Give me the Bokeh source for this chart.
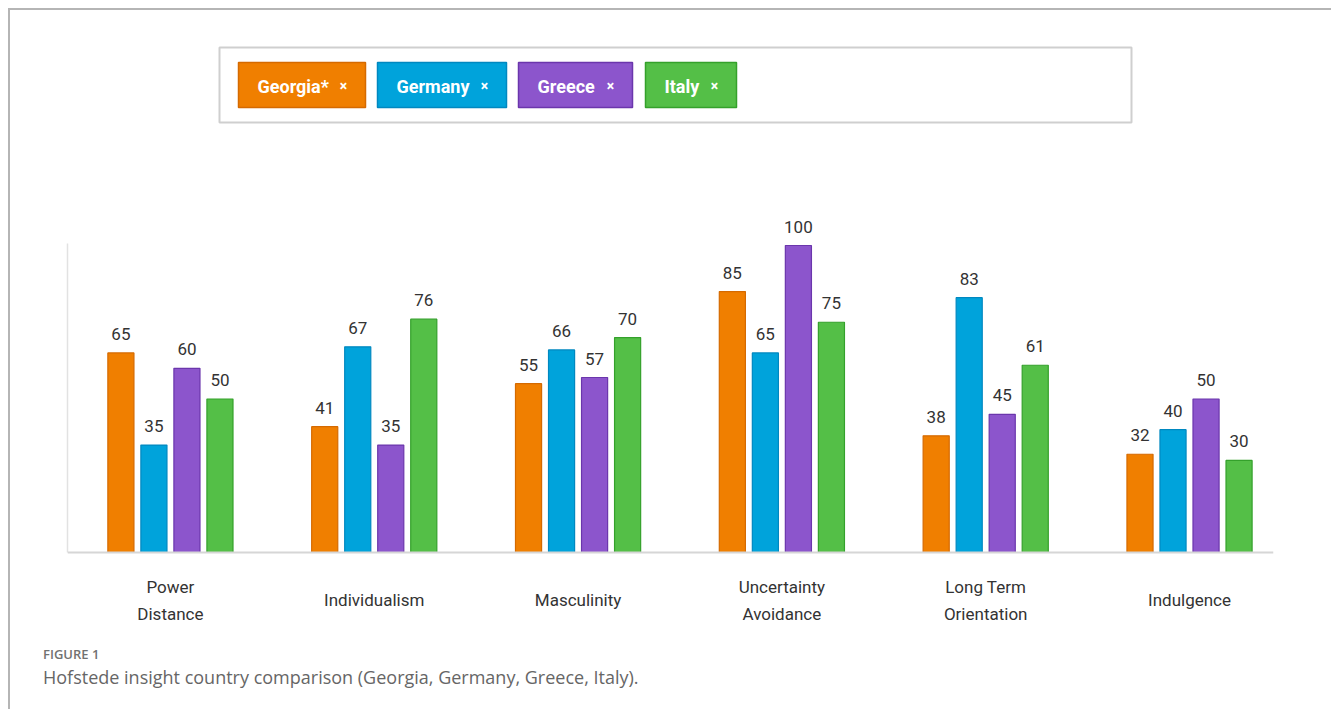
from bokeh.plotting import figure
from bokeh.models import Range1d, ColumnDataSource, LabelSet, FixedTicker, Div, Span
from bokeh.transform import dodge
from bokeh.layouts import column
from bokeh.core.properties import value
from bokeh.embed import file_html
from bokeh.resources import INLINE

# ---------------- data ----------------
categories = ["Power\nDistance", "Individualism", "Masculinity",
              "Uncertainty\nAvoidance", "Long Term\nOrientation", "Indulgence"]
countries = ["Georgia*", "Germany", "Greece", "Italy"]
georgia = [65, 41, 55, 85, 38, 32]
germany = [35, 67, 66, 65, 83, 40]
greece = [60, 35, 57, 100, 45, 50]
italy = [50, 76, 70, 75, 61, 30]
series = [georgia, germany, greece, italy]

fill_colors = ["#F07F00", "#00A3DB", "#8C55CC", "#54BF47"]
line_colors = ["#D56A00", "#0088C0", "#6B36AC", "#34A12B"]

FONT = "Roboto"
W = 1321
BL = 57            # left border (px) shared by both plots
BR = W + 10 - 1273  # right border (px)

# ---------------- legend (top) ----------------
leg = figure(width=W, height=190, x_range=Range1d(BL, W - BR), y_range=Range1d(190, 0),
             toolbar_location=None, output_backend="svg",
             min_border_left=BL, min_border_right=BR, min_border_top=0, min_border_bottom=0,
             outline_line_color=None)
leg.axis.visible = False
leg.grid.visible = False

leg.quad(left=[209], right=[1121], top=[37], bottom=[112], fill_color="white",
         line_color="#cfcfcf", line_width=2)

chip_left = [228, 367, 508, 635]
chip_right = [355, 496, 622, 726]
chip_top, chip_bottom = 52, 97
chip_src = ColumnDataSource(dict(
    left=chip_left, right=chip_right,
    top=[chip_top] * 4, bottom=[chip_bottom] * 4,
    fill=fill_colors, line=line_colors,
    name=countries,
    tx=[l + 19 for l in chip_left],
    xx=[r - 22 for r in chip_right],
    ty=[(chip_top + chip_bottom) / 2 + 1] * 4,
    x=["\u00d7"] * 4,
))
leg.quad(left="left", right="right", top="top", bottom="bottom",
         fill_color="fill", line_color="line", line_width=1.5, source=chip_src)
leg.text(x="tx", y="ty", text="name", source=chip_src, text_color="white",
         text_font=value(FONT), text_font_style="bold", text_font_size="18px",
         text_baseline="middle", text_align="left")
leg.text(x="xx", y="ty", text="x", source=chip_src, text_color="white",
         text_font=value(FONT), text_font_style="bold", text_font_size="14px",
         text_baseline="middle", text_align="center")

# ---------------- main chart ----------------
p = figure(width=W, height=435, x_range=Range1d(-0.505, 5.412), y_range=Range1d(-27.04, 114.66),
           toolbar_location=None, output_backend="svg",
           min_border_left=BL, min_border_right=BR, min_border_top=0, min_border_bottom=0,
           outline_line_color=None)
p.grid.visible = False
p.xaxis.visible = False

p.yaxis.major_tick_line_color = None
p.yaxis.minor_tick_line_color = None
p.yaxis.major_label_text_font_size = "0px"
p.yaxis.ticker = FixedTicker(ticks=[])
p.yaxis.axis_line_color = "#e2e2e2"
p.yaxis.axis_line_width = 1.5
p.yaxis.bounds = (0, 100.65)

p.add_layout(Span(location=0, dimension="width", line_color="#d6d6d6", line_width=2))

idx = list(range(len(categories)))
offsets = [-0.243, -0.081, 0.081, 0.243]
bar_w = 0.128

for vals, off, fc, lc in zip(series, offsets, fill_colors, line_colors):
    src = ColumnDataSource(dict(idx=idx, val=vals, txt=[str(v) for v in vals]))
    p.vbar(x=dodge("idx", off), top="val", width=bar_w, bottom=0, source=src,
           fill_color=fc, line_color=lc, line_width=1.2)
    p.add_layout(LabelSet(x=dodge("idx", off), y="val", text="txt", source=src,
                          y_offset=13, text_align="center", text_baseline="alphabetic",
                          text_font=value(FONT), text_font_size="17px",
                          text_color="#333333"))

# category labels: one centred label per line, block centred 48px under the baseline
LINE_GAP = 27
lx, ltxt, loff = [], [], []
for i, cat in enumerate(categories):
    lines = cat.split("\n")
    n = len(lines)
    for j, ln in enumerate(lines):
        lx.append(i)
        ltxt.append(ln)
        loff.append(-48 - (j - (n - 1) / 2) * LINE_GAP)
cat_src = ColumnDataSource(dict(x=lx, y=[0] * len(lx), name=ltxt, off=loff))
p.add_layout(LabelSet(x="x", y="y", text="name", source=cat_src, y_offset="off",
                      text_align="center", text_baseline="middle",
                      text_font=value(FONT), text_font_size="17px",
                      text_color="#333333"))

# ---------------- caption ----------------
cap = Div(text=(
    "<div style=\"font-family:'Open Sans';font-size:13px;font-weight:600;color:#717171;"
    "line-height:16px;\">FIGURE 1</div>"
    "<div style=\"font-family:'Open Sans';font-size:18px;font-weight:400;color:#666666;"
    "line-height:22px;margin-top:4px;\">Hofstede insight country comparison "
    "(Georgia, Germany, Greece, Italy).</div>"),
    width=W, height=74, margin=0,
    styles={"padding-left": "33px", "padding-top": "11px", "box-sizing": "border-box"})

layout = column(leg, p, cap, spacing=0,
                styles={"border-top": "2px solid #b5b5b5", "border-left": "2px solid #b5b5b5",
                        "margin-left": "8px", "margin-top": "8px"})

open("out.html", "w").write(file_html(layout, INLINE))
